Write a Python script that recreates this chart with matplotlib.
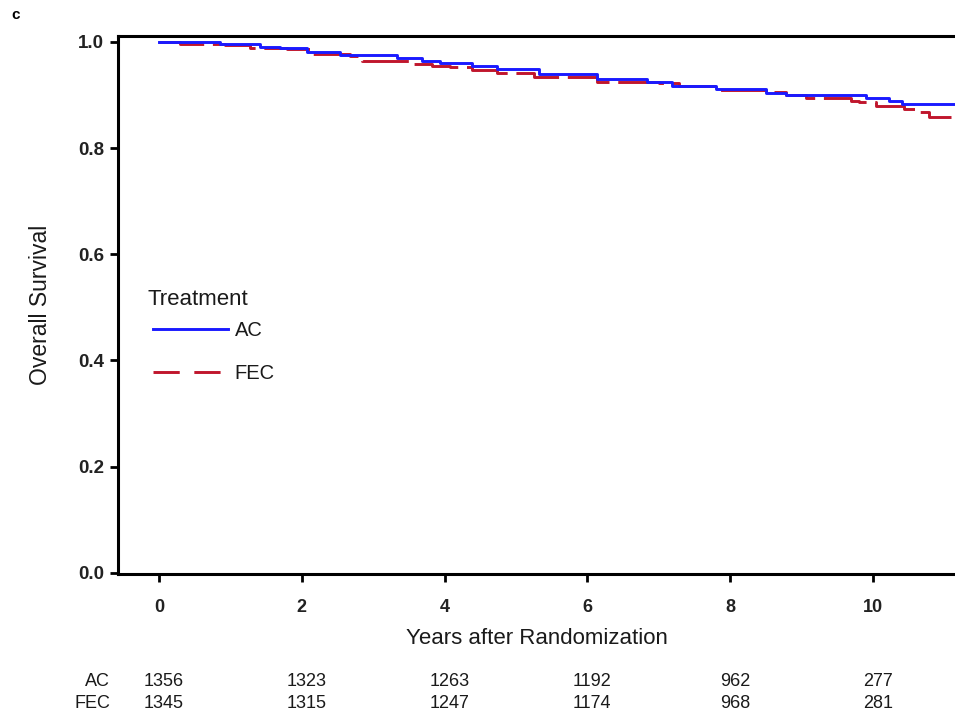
import matplotlib
matplotlib.use("Agg")
import matplotlib.pyplot as plt
import matplotlib.transforms as mtransforms
from matplotlib.lines import Line2D
from matplotlib import font_manager

# ---------------- data ----------------
ac_times = [0.0, 0.85, 1.41, 1.69, 2.07, 2.53, 3.33, 3.69, 3.93, 4.39, 4.73, 5.33,
            6.13, 6.83, 7.19, 7.80, 8.50, 8.78, 9.90, 10.22, 10.41, 11.2]
ac_surv = [1.000, 0.995, 0.991, 0.988, 0.981, 0.975, 0.970, 0.964, 0.960, 0.955, 0.949, 0.939,
           0.930, 0.924, 0.917, 0.911, 0.903, 0.899, 0.894, 0.889, 0.883, 0.883]

fec_times = [0.0, 0.29, 0.92, 1.27, 1.80, 2.11, 2.67, 2.85, 3.51, 3.83, 4.07, 4.38, 4.73,
             5.26, 6.13, 7.01, 7.29, 7.85, 8.50, 8.78, 9.06, 9.69, 9.80, 10.04, 10.43,
             10.64, 10.78, 11.1]
fec_surv = [1.000, 0.995, 0.994, 0.989, 0.986, 0.978, 0.974, 0.964, 0.959, 0.955, 0.953, 0.947, 0.941,
            0.934, 0.925, 0.922, 0.916, 0.910, 0.905, 0.900, 0.895, 0.889, 0.886, 0.879, 0.873,
            0.867, 0.859, 0.859]

risk_times = [0, 2, 4, 6, 8, 10]
risk_ac = [1356, 1323, 1263, 1192, 962, 277]
risk_fec = [1345, 1315, 1247, 1174, 968, 281]

x_ticks = [0, 2, 4, 6, 8, 10]
y_ticks = [0.0, 0.2, 0.4, 0.6, 0.8, 1.0]

# ---------------- style ----------------
names = {f.name for f in font_manager.fontManager.ttflist}
main_font = ["Liberation Sans", "DejaVu Sans"]
narrow_font = (["Liberation Sans Narrow", "Liberation Sans", "DejaVu Sans"]
               if "Liberation Sans Narrow" in names else ["Liberation Sans", "DejaVu Sans"])
plt.rcParams["font.family"] = main_font

blue = "#1a1aff"
red = "#c0162c"
text_col = "#1a1a1a"

fig = plt.figure(figsize=(9.55, 7.19), dpi=100)
ax = fig.add_axes([118 / 955, 1 - 574 / 719, 1 - 118 / 955, (574 - 36) / 719])

ax.step(ac_times, ac_surv, where="post", color=blue, lw=2.1, zorder=3)
ax.step(fec_times, fec_surv, where="post", color=red, lw=2.1, dashes=(16, 3), zorder=2)

ax.set_xlim(-0.573, 11.15)
ax.set_ylim(-0.002, 1.011)
ax.set_xticks(x_ticks)
ax.set_yticks(y_ticks)
ax.set_yticklabels([f"{v:.1f}" for v in y_ticks])

for s in ["left", "bottom", "top"]:
    ax.spines[s].set_linewidth(2.2)
ax.spines["right"].set_visible(False)
ax.tick_params(axis="both", direction="out", length=6, width=2, pad=4)
ax.tick_params(axis="y", labelsize=13.5)
ax.tick_params(axis="x", labelsize=13, pad=12)
for lab in ax.get_xticklabels() + ax.get_yticklabels():
    lab.set_fontweight("bold")
    lab.set_color("#222222")

ax.set_xlabel("Years after Randomization", fontsize=16, labelpad=9, color=text_col)
ax.set_ylabel("Overall Survival", fontsize=16.5, labelpad=19, color=text_col)

# legend (title drawn separately so the spacing matches the reference)
handles = [Line2D([], [], color=blue, lw=2.1),
           Line2D([], [], color=red, lw=2.1, dashes=(9, 5))]
leg = ax.legend(handles, ["AC", "FEC"], loc="center left",
                bbox_to_anchor=(0.0418, 0.413), frameon=False, fontsize=14.5,
                handlelength=3.7, handletextpad=0.35, labelspacing=1.2,
                borderpad=0, borderaxespad=0)
for t in leg.get_texts():
    t.set_color(text_col)
ax.text(0.0358, 0.511, "Treatment", transform=ax.transAxes, ha="left", va="center",
        fontsize=16, color=text_col)

fig.text(11 / 955, 1 - 15 / 719, "c", fontsize=11, fontweight="bold", va="center", ha="left")

# risk table
trans = mtransforms.blended_transform_factory(ax.transData, fig.transFigure)
y_ac = 1 - 681 / 719
y_fec = 1 - 704 / 719
fig.text(110 / 955, y_ac, "AC", ha="right", va="center", fontsize=13, family=narrow_font,
         color=text_col)
fig.text(110 / 955, y_fec, "FEC", ha="right", va="center", fontsize=13, family=narrow_font,
         color=text_col)
for t, a, f in zip(risk_times, risk_ac, risk_fec):
    ax.text(t + 0.07, y_ac, str(a), transform=trans, ha="center", va="center",
            fontsize=13, family=narrow_font, clip_on=False, color=text_col)
    ax.text(t + 0.07, y_fec, str(f), transform=trans, ha="center", va="center",
            fontsize=13, family=narrow_font, clip_on=False, color=text_col)

fig.savefig("out.png", dpi=100)
